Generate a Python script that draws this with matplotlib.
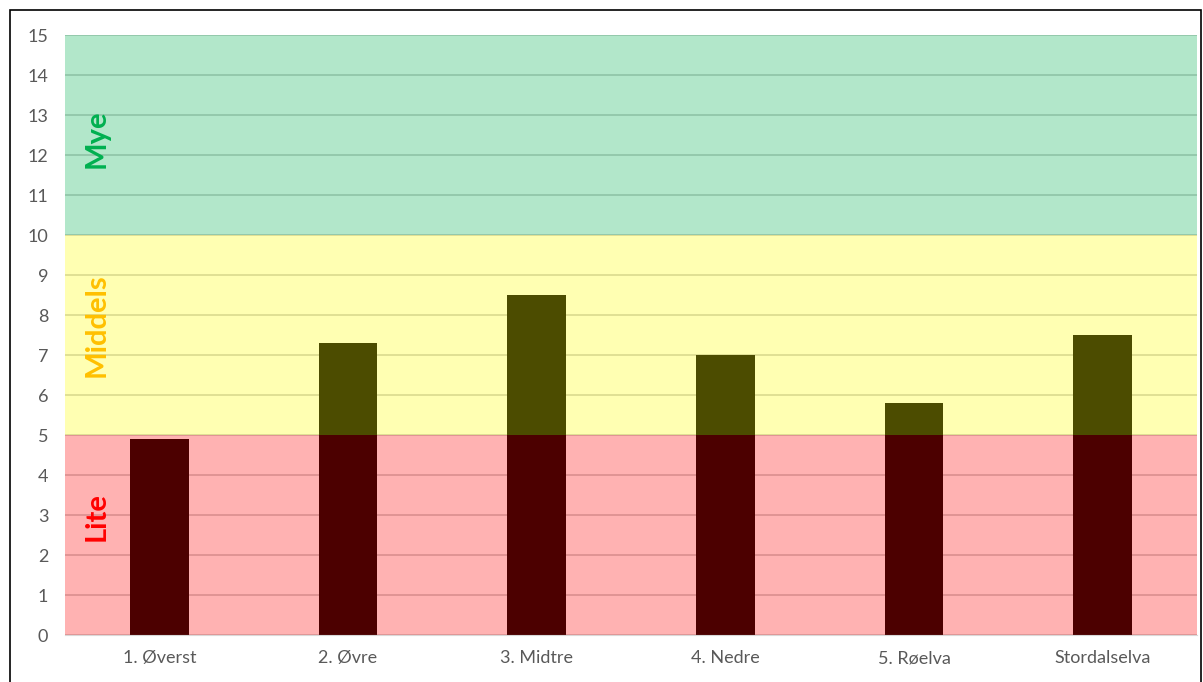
"""Mengde per strekning, vist mot fargede nivåbånd"""

import matplotlib
matplotlib.use("Agg")
from matplotlib import pyplot as plt
from matplotlib.patches import Rectangle

strekninger = ["1. Øverst", "2. Øvre", "3. Midtre", "4. Nedre", "5. Røelva", "Stordalselva"]
verdier = [4.9, 7.3, 8.5, 7.0, 5.8, 7.5]

# nivåbånd: (fra, til, farge, tekst)
baand_fra = [0, 5, 10]
baand_til = [5, 10, 15]
baand_farger = ["#FF0000", "#FFFF00", "#00B050"]
baand_tekst = ["Lite", "Middels", "Mye"]
tekst_farger = ["#FF0000", "#FFC000", "#00B050"]
tekst_y = [2.95, 7.75, 12.4]

plt.rcParams["font.family"] = ["Lato", "DejaVu Sans"]

fig = plt.figure(figsize=(12.03, 6.82), dpi=100)
W, H = 1203, 682
ax = fig.add_axes([65 / W, (H - 635) / H, 1132 / W, 600 / H])

x = list(range(len(strekninger)))
# svarte søyler under halvgjennomsiktige bånd gir mørk rød / oliven
ax.bar(x, verdier, width=0.31, color="black", zorder=1)

for lo, hi, farge in zip(baand_fra, baand_til, baand_farger):
    ax.axhspan(lo, hi, color=farge, alpha=0.3, lw=0, zorder=2)

for ty, tekst, farge in zip(tekst_y, baand_tekst, tekst_farger):
    ax.text(-0.33, ty, tekst, rotation=90, ha="center", va="center",
            color=farge, fontsize=21, fontweight="bold", zorder=3)

ax.set_xlim(-0.5, len(strekninger) - 0.5)
ax.set_ylim(0, 15)
ax.set_yticks(range(0, 16))
ax.set_xticks(x)
ax.set_xticklabels(strekninger)
ax.set_axisbelow(True)
ax.grid(axis="y", color="#D0D0D0", lw=1.3)
ax.tick_params(axis="both", length=0, labelsize=13, labelcolor="#595959")
ax.tick_params(axis="y", pad=12)
ax.tick_params(axis="x", pad=11)
for side in ["top", "right", "left"]:
    ax.spines[side].set_visible(False)
ax.spines["bottom"].set_color("#D9D9D9")

# ramme rundt hele diagrammet
fig.patches.append(Rectangle((10 / W, -0.05), (1201 - 10) / W, 1.05 - 10 / H,
                             transform=fig.transFigure, fill=False,
                             edgecolor="black", lw=1.2))

fig.savefig("out.png", dpi=100, facecolor="white")
